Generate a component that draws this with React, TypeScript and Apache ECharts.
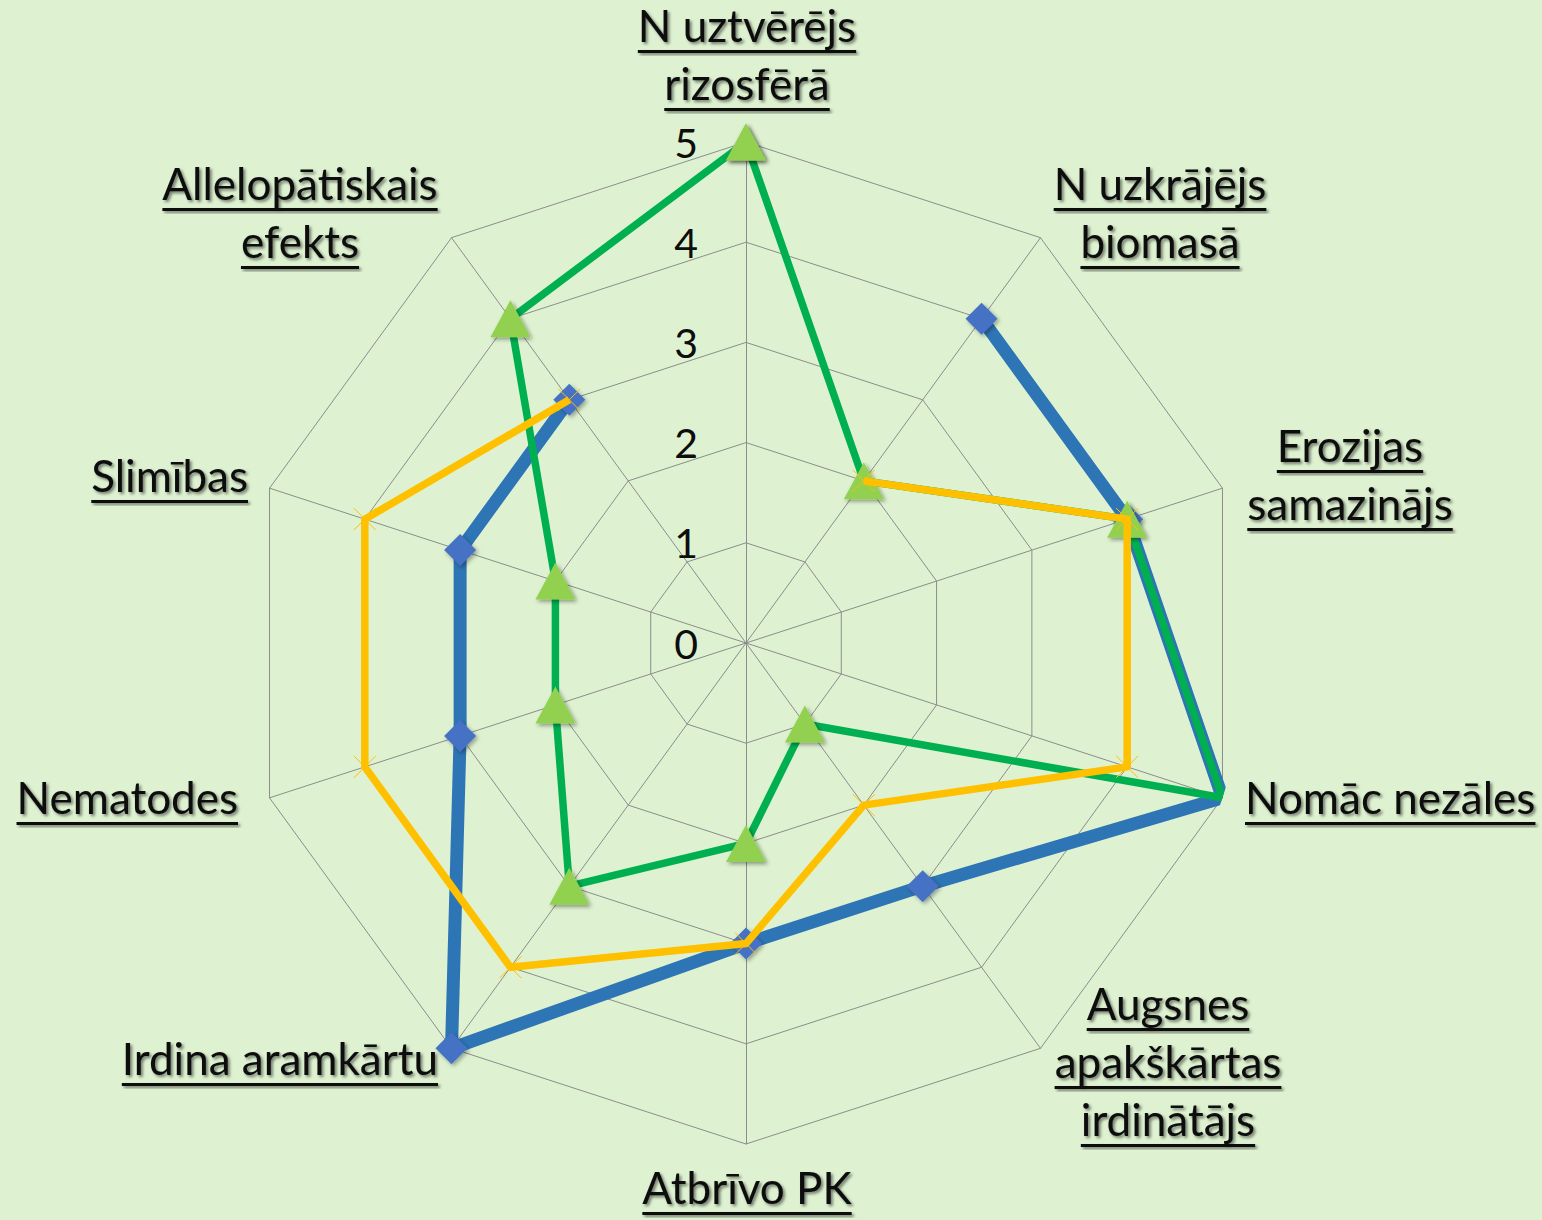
import React, { useEffect, useRef } from "react";
import * as echarts from "echarts";

// ---------- data ----------
const categories: string[] = [
  "N uztvērējs rizosfērā",
  "N uzkrājējs biomasā",
  "Erozijas samazinājs",
  "Nomāc nezāles",
  "Augsnes apakškārtas irdinātājs",
  "Atbrīvo PK",
  "Irdina aramkārtu",
  "Nematodes",
  "Slimības",
  "Allelopātiskais efekts",
];
// label text split into lines (same order as categories)
const categoryLines: string[][] = [
  ["N uztvērējs", "rizosfērā"],
  ["N uzkrājējs", "biomasā"],
  ["Erozijas", "samazinājs"],
  ["Nomāc nezāles"],
  ["Augsnes", "apakškārtas", "irdinātājs"],
  ["Atbrīvo PK"],
  ["Irdina aramkārtu"],
  ["Nematodes"],
  ["Slimības"],
  ["Allelopātiskais", "efekts"],
];
const blueValues: (number | null)[] = [null, 4, 4, 5, 3, 3, 5, 3, 3, 3];
const greenValues: (number | null)[] = [5, 2, 4, 5, 1, 2, 3, 2, 2, 4];
const yellowValues: (number | null)[] = [null, 2, 4, 4, 2, 3, 4, 4, 4, 3];
const tickLabels: string[] = ["0", "1", "2", "3", "4", "5"];
const maxValue = 5;

// ---------- layout / style ----------
const CX = 746;
const CY = 643;
const R = 501;
const FONT = "Lato";
const FS = 44;
const LINE_GAP = 58;
const TEXT_COLOR = "#0d0d0d";
// anchor x, first baseline y, align
const labelLayout: [number, number, "left" | "center" | "right"][] = [
  [747, 40, "center"],
  [1160, 198, "center"],
  [1350, 460, "center"],
  [1245, 812, "left"],
  [1168, 1018, "center"],
  [747, 1202, "center"],
  [438, 1073, "right"],
  [238, 812, "right"],
  [248, 490, "right"],
  [300, 198, "center"],
];

function toPolar(values: (number | null)[]) {
  const n = values.length;
  const pts: any[] = [];
  for (let i = 0; i <= n; i++) {
    const v = values[i % n];
    pts.push([v == null ? "-" : v, (i * 360) / n]);
  }
  return pts;
}

function buildLabels() {
  const canvas = document.createElement("canvas");
  const ctx = canvas.getContext("2d")!;
  ctx.font = `${FS}px ${FONT}`;
  const els: any[] = [];
  categoryLines.forEach((lines, ci) => {
    const [ax, by, align] = labelLayout[ci];
    lines.forEach((txt, li) => {
      const baseline = by + li * LINE_GAP;
      const w = ctx.measureText(txt).width;
      const x0 = align === "left" ? ax : align === "right" ? ax - w : ax - w / 2;
      els.push({
        type: "text",
        z: 10,
        style: {
          text: txt,
          x: ax,
          y: baseline - 15,
          textAlign: align,
          textVerticalAlign: "middle",
          fontSize: FS,
          lineHeight: FS,
          fontFamily: FONT,
          fill: TEXT_COLOR,
          textShadowColor: "rgba(0,0,0,0.5)",
          textShadowBlur: 3,
          textShadowOffsetX: 2,
          textShadowOffsetY: 2,
        },
      });
      els.push({
        type: "rect",
        z: 10,
        shape: { x: x0, y: baseline + 10, width: w, height: 3 },
        style: {
          fill: TEXT_COLOR,
          shadowColor: "rgba(0,0,0,0.5)",
          shadowBlur: 3,
          shadowOffsetX: 2,
          shadowOffsetY: 2,
        },
      });
    });
  });
  return els;
}

export default function App() {
  const ref = useRef<HTMLDivElement>(null);
  useEffect(() => {
    if (!ref.current) return;
    const chart = echarts.init(ref.current, undefined, { renderer: "svg" });
    // radar indicators are laid out counter-clockwise; reorder so they run clockwise
    const ccwOrder = [0, ...categories.slice(1).map((_, i) => categories.length - 1 - i)];
    const option: any = {
      animation: false,
      backgroundColor: "#def2d1",
      radar: {
        center: [CX, CY],
        radius: R,
        startAngle: 90,
        splitNumber: 5,
        shape: "polygon",
        indicator: ccwOrder.map((i) => ({ name: categories[i], min: 0, max: maxValue })),
        axisName: { show: false },
        splitArea: { show: false },
        splitLine: { lineStyle: { color: "#8c8c8c", width: 1 } },
        axisLine: { lineStyle: { color: "#8c8c8c", width: 1 } },
        axisTick: { show: false },
        axisLabel: { show: false },
      },
      polar: { center: [CX, CY], radius: R },
      angleAxis: {
        type: "value",
        min: 0,
        max: 360,
        startAngle: 90,
        clockwise: true,
        show: false,
      },
      radiusAxis: {
        type: "value",
        min: 0,
        max: maxValue,
        interval: 1,
        axisLine: { show: false },
        axisTick: { show: false },
        splitLine: { show: false },
        axisLabel: {
          show: true,
          margin: 48,
          fontSize: 41,
          fontFamily: FONT,
          color: TEXT_COLOR,
          formatter: (v: number) => tickLabels[Math.round(v)] ?? "",
        },
        z: 5,
      },
      graphic: buildLabels(),
      series: [
        {
          name: "blue",
          type: "line",
          coordinateSystem: "polar",
          data: toPolar(blueValues),
          connectNulls: false,
          symbol: "diamond",
          symbolSize: 32,
          z: 2,
          lineStyle: { color: "#2E75B6", width: 13, join: "round", cap: "round" },
          itemStyle: {
            color: "#4472C4",
            shadowColor: "rgba(0,0,0,0.35)",
            shadowBlur: 4,
            shadowOffsetX: 2,
            shadowOffsetY: 2,
          },
        },
        {
          name: "green",
          type: "line",
          coordinateSystem: "polar",
          data: toPolar(greenValues),
          connectNulls: false,
          symbol: "triangle",
          symbolSize: [40, 37],
          z: 3,
          lineStyle: { color: "#00B050", width: 7.5, join: "round" },
          itemStyle: {
            color: "#92D050",
            shadowColor: "rgba(0,0,0,0.4)",
            shadowBlur: 4,
            shadowOffsetX: 2,
            shadowOffsetY: 2,
          },
        },
        {
          name: "yellow",
          type: "line",
          coordinateSystem: "polar",
          data: toPolar(yellowValues),
          connectNulls: false,
          symbol: "path://M0,0L20,20M20,0L0,20",
          symbolSize: 22,
          z: 4,
          lineStyle: { color: "#FFC000", width: 7.5, join: "round" },
          itemStyle: {
            color: "none",
            borderColor: "#FFC000",
            borderWidth: 1,
          },
        },
      ],
    };
    chart.setOption(option);
    return () => chart.dispose();
  }, []);
  return (
    <div
      ref={ref}
      style={{ position: "fixed", left: 0, top: 0, width: 1542, height: 1220 }}
    />
  );
}
